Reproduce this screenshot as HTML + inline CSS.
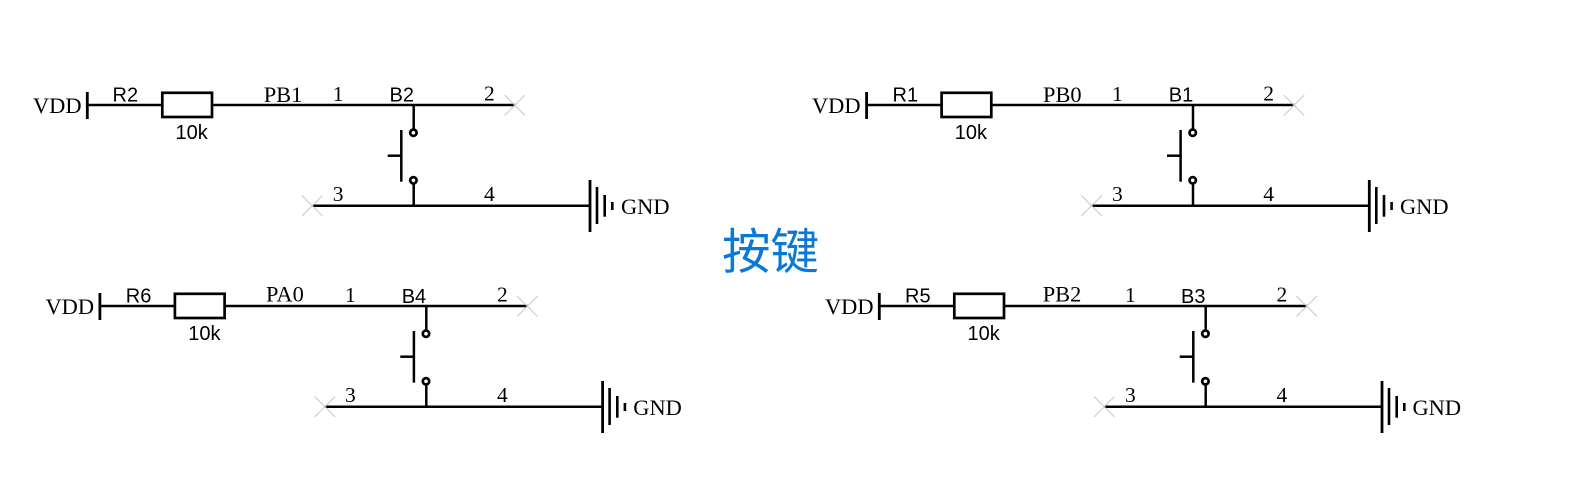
<!DOCTYPE html>
<html>
<head>
<meta charset="utf-8">
<style>
html,body{margin:0;padding:0;background:#fff;width:1590px;height:482px;overflow:hidden}
svg{display:block}
.s{font-family:"Liberation Serif",serif;font-size:22.4px;fill:#000}
.n{font-family:"Liberation Serif",serif;font-size:21.5px;fill:#000}
.a{font-family:"Liberation Sans",sans-serif;font-size:20px;fill:#000}
.t{font-family:"Liberation Sans","Noto Sans CJK SC",sans-serif;font-size:48.5px;fill:#0a78d6}
</style>
</head>
<body>
<svg width="1590" height="482" viewBox="0 0 1590 482" xmlns="http://www.w3.org/2000/svg">
<defs>
<g id="c">
<g fill="none" stroke="#000" stroke-width="2.5">
<path d="M87.3 92V119" stroke-width="2.8"/>
<path d="M87.3 105H162.3M212 105H515"/>
<rect x="162.3" y="92.8" width="49.7" height="24.2" fill="#fff" stroke-width="2.7"/>
<path d="M413.7 105V129"/>
<circle cx="413.4" cy="132.7" r="3.2" stroke-width="2.7"/>
<circle cx="413.4" cy="180.3" r="3.2" stroke-width="2.7"/>
<path d="M413.7 184V205.7"/>
<path d="M401.3 130V181.7"/>
<path d="M387.7 155.7H401.3"/>
<path d="M312.3 205.7H590"/>
<path d="M590 180V232" stroke-width="2.8"/>
<path d="M597 187V224" stroke-width="2.6"/>
<path d="M604.7 195V216.7" stroke-width="2.6"/>
<path d="M612.3 202V210" stroke-width="2.6"/>
</g>
<g stroke="#c8c8c8" stroke-width="1" fill="none">
<path d="M504.5 95L525 115.5M525 95L504.5 115.5"/>
<path d="M302 195.5L322.5 216M322.5 195.5L302 216"/>
</g>
</g>
</defs>

<use href="#c"/>
<text class="s" x="33" y="113">VDD</text>
<text class="a" x="112.5" y="101.5">R2</text>
<text class="s" x="263.7" y="102">PB1</text>
<text class="a" x="175.5" y="139">10k</text>
<text class="n" x="332.8" y="101">1</text>
<text class="a" x="389.5" y="101.5">B2</text>
<text class="n" x="484" y="100.5">2</text>
<text class="n" x="332.8" y="201">3</text>
<text class="n" x="484" y="201">4</text>
<text class="s" x="621" y="214">GND</text>

<use href="#c" x="779.3"/>
<text class="s" x="812" y="113">VDD</text>
<text class="a" x="892.5" y="101.5">R1</text>
<text class="s" x="1043" y="102">PB0</text>
<text class="a" x="954.8" y="139">10k</text>
<text class="n" x="1112" y="101">1</text>
<text class="a" x="1168.8" y="101.5">B1</text>
<text class="n" x="1263.3" y="100.5">2</text>
<text class="n" x="1112" y="201">3</text>
<text class="n" x="1263.3" y="201">4</text>
<text class="s" x="1400" y="214">GND</text>

<use href="#c" x="12.6" y="201"/>
<text class="s" x="45.5" y="314">VDD</text>
<text class="a" x="125.8" y="302.5">R6</text>
<text class="s" x="266" y="301.5">PA0</text>
<text class="a" x="188.3" y="340">10k</text>
<text class="n" x="345" y="302">1</text>
<text class="a" x="401.7" y="303">B4</text>
<text class="n" x="497" y="301.5">2</text>
<text class="n" x="345" y="402">3</text>
<text class="n" x="497" y="402">4</text>
<text class="s" x="633.3" y="415">GND</text>

<use href="#c" x="792" y="201"/>
<text class="s" x="825" y="314">VDD</text>
<text class="a" x="905" y="302.5">R5</text>
<text class="s" x="1042.7" y="301.5">PB2</text>
<text class="a" x="967.5" y="340">10k</text>
<text class="n" x="1125" y="302">1</text>
<text class="a" x="1181" y="303">B3</text>
<text class="n" x="1276.5" y="301.5">2</text>
<text class="n" x="1125" y="402">3</text>
<text class="n" x="1276.5" y="402">4</text>
<text class="s" x="1412.5" y="415">GND</text>

<text class="t" x="722" y="268.5">按键</text>
</svg>
</body>
</html>
